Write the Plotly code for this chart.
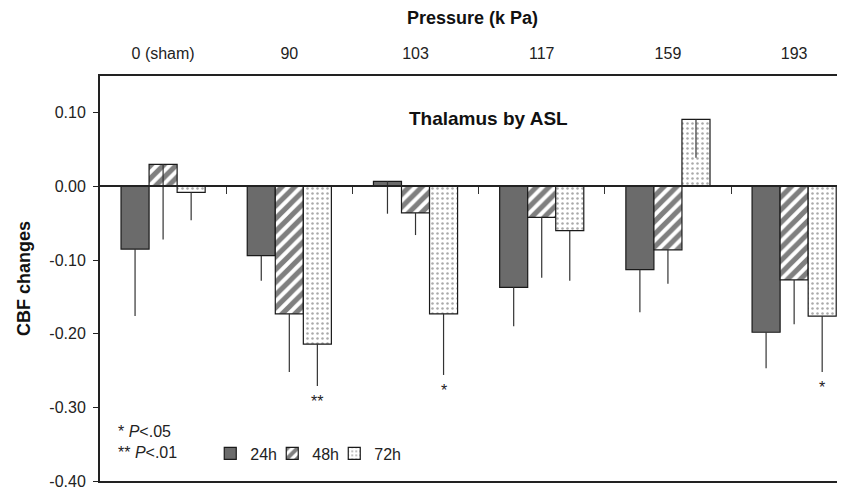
import plotly.graph_objects as go

categories = ["0 (sham)", "90", "103", "117", "159", "193"]
series_names = ["24h", "48h", "72h"]

values_24h = [-0.085, -0.094, 0.007, -0.137, -0.113, -0.198]
values_48h = [0.030, -0.173, -0.036, -0.042, -0.086, -0.127]
values_72h = [-0.008, -0.214, -0.173, -0.060, 0.091, -0.176]

err_24h = [0.091, 0.034, 0.044, 0.053, 0.058, 0.049]
err_48h = [0.102, 0.079, 0.030, 0.082, 0.046, 0.060]
err_72h = [0.038, 0.057, 0.083, 0.068, 0.052, 0.076]

sig_72h = ["", "**", "*", "", "", "*"]

y_min, y_max = -0.40, 0.15
y_ticks = [0.10, 0.00, -0.10, -0.20, -0.30, -0.40]
y_ticktext = [f"{v:.2f}" for v in y_ticks]

FONT = "Liberation Sans, Arial, sans-serif"

styles = {
    "24h": dict(color="#6b6b6b", pattern=None, lw=17),
    "48h": dict(color="white", pattern=dict(shape="/", fgcolor="black", bgcolor="white",
                                           size=9, solidity=0.56, fillmode="overlay"), lw=17),
    "72h": dict(color="white", pattern=dict(shape=".", fgcolor="#555555", bgcolor="white",
                                           size=5, solidity=0.2, fillmode="overlay"), lw=45),
}

fig = go.Figure()
for name, vals, errs in zip(series_names, [values_24h, values_48h, values_72h],
                            [err_24h, err_48h, err_72h]):
    st = styles[name]
    marker = dict(color=st["color"], line=dict(color="#1a1a1a", width=1.2))
    if st["pattern"]:
        marker["pattern"] = st["pattern"]
    fig.add_trace(go.Bar(
        x=categories, y=vals, name=name, marker=marker, legendwidth=st["lw"],
        error_y=dict(type="data", symmetric=False, array=[0] * len(errs),
                     arrayminus=errs, color="#333333", thickness=1.2, width=0),
    ))

# empty trace so the zero-line axis is drawn
fig.add_trace(go.Scatter(x=[], y=[], xaxis="x2", showlegend=False, hoverinfo="skip"))

n = len(categories)
x_range = [-0.5, 5.403]
bargap = 1 / 3
bar_w = (1 - bargap) / len(series_names)

# significance stars under 72h bars
for i, s in enumerate(sig_72h):
    if s:
        fig.add_annotation(x=i + bar_w, y=values_72h[i] - err_72h[i], xref="x", yref="y",
                           text=s, showarrow=False, yanchor="top", yshift=-5,
                           font=dict(family=FONT, size=16, color="#222"))

fig.add_annotation(x=0.521, y=0.092, xref="paper", yref="y",
                   text="<b>Thalamus by ASL</b>", showarrow=False,
                   font=dict(family=FONT, size=19, color="#111"))

p_labels = ["* <i>P</i><.05", "** <i>P</i><.01"]
p_y = [-0.333, -0.361]
for t, yy in zip(p_labels, p_y):
    fig.add_annotation(x=0.022, y=yy, xref="paper", yref="y", text=t, showarrow=False,
                       xanchor="left", yanchor="middle",
                       font=dict(family=FONT, size=16, color="#222"))

# the page body adds an 8px offset, so the figure is 8px smaller than the window
fig.update_layout(
    width=837, height=482,
    margin=dict(l=92, r=0, t=68, b=9, autoexpand=False),
    paper_bgcolor="white", plot_bgcolor="white",
    barmode="group", bargap=bargap, bargroupgap=0,
    font=dict(family=FONT, size=16, color="#222"),
    showlegend=True,
    legend=dict(orientation="h", x=0.148, y=0.068, xanchor="left", yanchor="middle",
                bgcolor="rgba(0,0,0,0)", font=dict(family=FONT, size=16, color="#222"),
                itemwidth=30, traceorder="normal"),
    xaxis=dict(type="category", side="top", range=x_range, showline=True, mirror=True,
               linecolor="#222", linewidth=2, ticks="", showgrid=False, zeroline=False,
               automargin=False,
               ticklabelstandoff=9, tickfont=dict(family=FONT, size=16, color="#222"),
               title=dict(text="<b>Pressure (k Pa)</b>", standoff=15,
                          font=dict(family=FONT, size=18, color="#111"))),
    xaxis2=dict(overlaying="x", anchor="free", position=(0 - y_min) / (y_max - y_min),
                range=x_range, showline=True, linecolor="#222", linewidth=1.5,
                tickvals=[i + 0.5 for i in range(n - 1)], ticks="outside", ticklen=7,
                tickcolor="#333", showticklabels=False, showgrid=False, zeroline=False,
                side="bottom", automargin=False),
    yaxis=dict(range=[y_min, y_max], tickvals=y_ticks, ticktext=y_ticktext, ticks="outside",
               ticklen=5, tickcolor="#222", showline=True, linecolor="#222", linewidth=2,
               showgrid=False, zeroline=False, ticklabelstandoff=4, automargin=False,
               tickfont=dict(family=FONT, size=16, color="#222"),
               title=dict(text="<b>CBF changes</b>", standoff=14,
                          font=dict(family=FONT, size=18, color="#111"))),
)

fig.write_html("out.html")
